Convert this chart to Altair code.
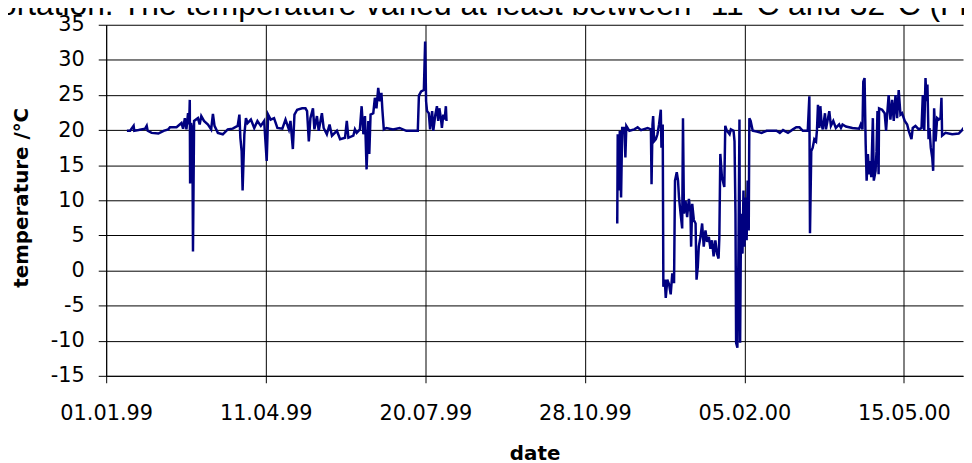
import altair as alt
import pandas as pd

# ---- data (days since 01.01.99, temperature in °C) ----
days_1999 = [13.0, 15.0, 17.2, 17.6, 20.3, 24.4, 25.4, 26.0, 28.5, 32.7, 36.0, 38.9, 40.0, 44.1,
             47.2, 48.2, 49.3, 50.3, 51.3, 52.0, 52.4, 52.6, 53.2, 54.0, 54.4, 55.1, 57.5, 58.6,
             59.6, 61.3, 63.8, 65.8, 66.9, 67.9, 70.0, 73.1, 76.2, 79.3, 82.4, 83.5, 84.1, 84.9,
             85.5, 86.6, 87.6, 88.6, 90.7, 92.8, 94.8, 96.9, 99.0, 100.6, 101.5, 103.1, 105.2,
             107.3, 110.4, 112.4, 114.5, 115.5, 117.0, 118.0, 119.7, 122.8, 124.9, 125.9, 127.0,
             128.0, 129.6, 130.5, 132.1, 133.2, 135.2, 136.3, 138.3, 140.0, 141.5, 144.6, 146.6,
             149.7, 150.8, 151.8, 154.9, 155.9, 157.0, 159.0, 160.1, 161.2, 162.2, 163.2, 164.3,
             164.9, 165.7, 167.4, 168.4, 169.4, 170.5, 171.5, 172.5, 173.1, 174.0, 175.6, 179.8,
             183.9, 188.1, 195.3, 196.0, 197.4, 199.1, 199.9, 200.5, 201.1, 202.2, 203.0, 204.3,
             205.0, 206.3, 207.3, 208.1, 208.8, 209.8, 210.4, 211.3, 212.1, 212.9, 213.3]
temp_1999 = [19.9, 19.9, 20.6, 19.9, 20.0, 20.2, 20.6, 19.9, 19.6, 19.5, 19.9, 20.1, 20.4, 20.4,
             21.0, 20.2, 21.7, 20.1, 22.4, 20.8, 24.3, 12.4, 21.0, 20.0, 2.7, 21.3, 21.7, 20.8,
             22.0, 21.3, 20.8, 20.1, 22.3, 20.6, 19.6, 19.4, 20.1, 20.2, 20.6, 22.2, 18.9, 17.0,
             11.4, 19.4, 21.7, 21.0, 21.5, 20.3, 21.3, 20.6, 21.3, 15.6, 22.2, 21.5, 21.7,
             20.3, 20.2, 21.5, 20.1, 21.3, 17.3, 22.2, 22.9, 23.1, 23.1, 22.7, 18.4,
             21.7, 23.1, 20.1, 22.0, 19.9, 22.4, 20.3, 19.4, 20.8, 19.2, 19.9, 18.7,
             18.9, 21.3, 18.9, 19.2, 20.1, 19.6, 20.1, 23.4, 19.4, 22.0, 14.4, 21.3,
             16.6, 22.2, 22.4, 24.6, 23.1, 26.0, 24.1, 25.3, 22.9, 20.1, 20.3, 20.1,
             20.3, 19.9, 19.9, 24.9, 25.5, 25.7, 32.6, 24.1, 22.7, 22.4, 20.1, 22.7,
             19.9, 22.2, 23.4, 21.3, 23.1, 21.7, 20.3, 22.2, 21.5, 23.4, 21.3]

days_2000 = [320.3, 320.6, 321.3, 321.9, 322.7, 323.4, 324.8, 325.4, 326.0, 327.9, 331.0, 333.1,
             335.2, 339.3, 341.4, 341.8, 342.4, 342.8, 343.4, 344.5, 345.5, 346.5, 347.6, 348.0,
             348.8, 349.2, 350.1, 350.7, 351.7, 352.8, 353.8, 354.8, 355.9, 356.5, 357.6, 358.4,
             359.0, 360.0, 361.0, 361.5, 362.1, 363.1, 364.1, 365.2, 366.2, 366.6, 367.3, 368.3,
             369.4, 370.0, 370.8, 371.4, 372.5, 373.5, 374.5, 375.6, 376.6, 377.7, 378.7, 379.7,
             380.7, 381.8, 382.8, 383.8, 384.3, 384.9, 385.9, 387.4, 388.0, 389.0, 390.7, 391.5,
             393.2, 393.8, 394.4, 394.8, 395.6, 396.3, 396.9, 397.3, 397.9, 398.8, 399.4, 400.0,
             400.8, 401.4, 402.0, 402.7, 403.1, 403.9, 405.2, 407.7, 410.8, 413.9, 420.1, 422.2,
             424.2, 427.3, 430.4, 432.5, 434.5, 436.6, 439.7, 440.7, 441.1, 441.9, 442.8, 443.8,
             444.9, 445.5, 446.1, 446.9, 447.6, 448.4, 449.1, 450.5, 451.1, 453.2, 454.2, 455.7,
             457.3, 459.4, 460.5, 461.5, 463.6, 467.7, 471.9, 472.9, 474.0, 474.5, 475.3, 476.0,
             476.6, 477.4, 478.1, 478.7, 479.5, 480.5, 481.1, 482.2, 482.8, 483.4, 484.1, 484.4,
             486.3, 487.9, 488.8, 489.4, 490.4, 491.5, 492.6, 493.6, 494.7, 495.7, 496.7, 497.8,
             498.8, 500.5, 502.0, 503.0, 504.7, 505.5, 507.2, 509.3, 511.0, 511.8, 512.7, 513.5,
             514.1, 514.7, 515.4, 516.0, 516.8, 517.7, 518.3, 518.9, 519.8, 520.8, 521.8, 522.9,
             523.5, 523.9, 526.0, 530.2, 534.3, 536.4, 537.4, 539.7]
temp_2000 = [6.7, 19.4, 11.4, 19.9, 10.4, 20.3, 20.3, 16.1, 20.6, 19.9, 20.1, 20.4,
             20.0, 20.3, 20.1, 12.3, 20.8, 22.0, 18.4, 18.7, 19.4, 20.8, 22.9, 17.5,
             20.8, -2.3, -1.3, -3.9, -1.3, -2.0, -3.4, -0.4, -1.8, 12.8, 14.0, 12.8,
             10.4, 8.1, 6.0, 21.7, 8.1, 9.9, 7.6, 10.2, 8.3, 3.4, 9.5, 7.2,
             6.7, -1.3, 0.6, 3.4, 4.8, 6.7, 3.4, 5.7, 4.1, 4.8, 3.1, 4.3,
             2.0, 4.3, 2.4, 1.7, 4.8, 16.6, 13.3, 11.9, 20.6, 19.9, 19.4, 20.1,
             19.9, 18.4, 8.1, -10.3, -11.0, 3.4, 21.5, -10.3, 8.1, 2.4, 11.4, 3.4,
             10.4, 4.3, 12.8, 5.7, 21.7, 21.3, 19.9, 19.8, 19.6, 19.9, 19.9, 19.6,
             20.0, 19.6, 20.1, 20.4, 20.4, 19.9, 19.9, 24.8, 5.3, 17.0, 17.5, 18.7,
             18.4, 20.1, 23.6, 20.3, 23.4, 20.8, 20.1, 22.4, 20.1, 22.7, 20.6, 21.3,
             20.3, 20.8, 20.3, 20.8, 20.5, 20.3, 20.2, 20.8, 20.1, 26.9, 27.4, 18.0,
             12.8, 16.6, 13.7, 15.6, 13.3, 21.7, 12.8, 14.2, 17.0, 22.7, 13.7, 23.1,
             22.9, 22.4, 19.9, 22.0, 25.0, 21.5, 24.3, 21.3, 25.0, 21.7, 25.7, 22.2,
             22.4, 21.3, 20.8, 19.9, 18.7, 20.3, 20.6, 20.1, 20.3, 25.0, 19.9, 27.4,
             24.1, 26.5, 18.7, 20.3, 17.5, 16.1, 14.2, 23.1, 18.4, 21.7, 21.5, 21.7,
             24.6, 19.2, 19.6, 19.4, 19.5, 20.0, 20.3, 19.9]

tick_dates = ["1999-01-01", "1999-04-11", "1999-07-20", "1999-10-28", "2000-02-05", "2000-05-15"]
axis_end_day = 537
y_ticks = [-15, -10, -5, 0, 5, 10, 15, 20, 25, 30, 35]
top_text = "ortation. The temperature varied at least between -11°C and 32°C (Fi"
x_title = "date"
y_title = "temperature  /°C"

# ---- build tables ----
start = pd.Timestamp("1999-01-01", tz="UTC")


def to_iso(days):
    ts = start + pd.to_timedelta(days, unit="D")
    return [t.strftime("%Y-%m-%dT%H:%M:%SZ") for t in ts]


df = pd.concat([
    pd.DataFrame({"date": to_iso(days_1999), "temp": temp_1999, "seg": "1999"}),
    pd.DataFrame({"date": to_iso(days_2000), "temp": temp_2000, "seg": "2000"}),
])

ms = lambda t: int(t.timestamp() * 1000)
tick_ms = [ms(pd.Timestamp(d, tz="UTC")) for d in tick_dates]
domain_ms = [ms(start), ms(start + pd.Timedelta(days=axis_end_day))]

line = alt.Chart(df).mark_line(color="#000080", strokeWidth=2.5, clip=True).encode(
    x=alt.X("date:T",
            scale=alt.Scale(type="utc", domain=domain_ms, nice=False),
            axis=alt.Axis(values=tick_ms, labelExpr="utcFormat(datum.value, '%d.%m.%y')",
                          title=x_title, labelFlush=False, labelOverlap=False,
                          tickSize=7, labelPadding=20,
                          titleX=432, titleY=78, titleBaseline="middle",
                          titleAlign="center")),
    y=alt.Y("temp:Q",
            scale=alt.Scale(domain=[-15, 35], nice=False, zero=False),
            axis=alt.Axis(values=y_ticks, labelExpr="toString(datum.value)",
                          title=y_title, tickSize=8, labelPadding=14,
                          titleX=-85, titleY=174, titleAngle=270,
                          titleBaseline="middle", titleAlign="center")),
    detail="seg:N",
)

text = alt.Chart(pd.DataFrame({"t": [top_text]})).mark_text(
    align="left", baseline="alphabetic", font="Liberation Sans", fontSize=32, color="black"
).encode(x=alt.value(-108), y=alt.value(-10), text="t:N")

chart = alt.layer(line, text).properties(
    width=864, height=354,
    autosize=alt.AutoSizeParams(type="none"),
    padding={"left": 99, "top": 15, "right": 1, "bottom": 86},
).configure_view(strokeWidth=0).configure_axis(
    gridColor="black", gridOpacity=1, gridWidth=1,
    domainColor="black", domainWidth=1, tickColor="black", tickWidth=1,
    labelColor="black", labelFont="DejaVu Sans", labelFontSize=21,
    titleColor="black", titleFont="DejaVu Sans", titleFontWeight="bold", titleFontSize=20,
)

chart.save("out.html", embed_options={"renderer": "svg", "actions": False})
